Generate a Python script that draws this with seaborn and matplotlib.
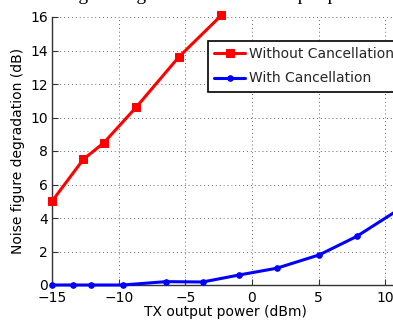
import numpy as np
import pandas as pd
import matplotlib
matplotlib.use("Agg")
import matplotlib.pyplot as plt
import seaborn as sns

# Data
tx_without = [-15.0, -12.65, -11.1, -8.7, -5.5, -2.3]
nf_without = [5.0, 7.5, 8.5, 10.6, 13.6, 16.1]
tx_with = [-15.0, -13.4, -12.1, -9.7, -6.45, -3.7, -0.95, 1.85, 5.05, 7.85, 10.9]
nf_with = [0.0, 0.0, 0.0, 0.0, 0.2, 0.18, 0.6, 1.0, 1.8, 2.9, 4.45]
series_names = ["Without Cancellation", "With Cancellation"]
x_ticks = [-15, -10, -5, 0, 5, 10]
y_ticks = [0, 2, 4, 6, 8, 10, 12, 14, 16]
title_text = "Noise figure degradation vs. TX output power"
xlabel_text = "TX output power (dBm)"
ylabel_text = "Noise figure degradation (dB)"

sns.set_theme(style="white")
plt.rcParams['font.family'] = ['DejaVu Sans']

fig = plt.figure(figsize=(3.93, 3.23), dpi=100)
W, H = 393, 323
left_px, right_px, top_px, bottom_px = 52, 52 + 26 * 13.333, 17, 285
ax = fig.add_axes([left_px / W, 1 - bottom_px / H, (right_px - left_px) / W, (bottom_px - top_px) / H])

df1 = pd.DataFrame({"x": tx_without, "y": nf_without})
df2 = pd.DataFrame({"x": tx_with, "y": nf_with})

sns.lineplot(data=df1, x="x", y="y", ax=ax, color="#ff0000", lw=2.2, marker="s",
             markersize=5.5, markeredgecolor="#ff0000", label=series_names[0],
             clip_on=False, zorder=5)
sns.lineplot(data=df2, x="x", y="y", ax=ax, color="#0000ff", lw=2.2, marker="o",
             markersize=4, markeredgecolor="#0000ff", label=series_names[1],
             clip_on=False, zorder=5)

ax.set_xlim(-15, 11)
ax.set_ylim(0, 16)
ax.set_xticks(x_ticks)
ax.set_yticks(y_ticks)
ax.set_xticklabels([("\u2212%d" % -t) if t < 0 else str(t) for t in x_ticks])
ax.set_yticklabels([str(t) for t in y_ticks])
ax.tick_params(axis="both", direction="in", length=4, width=0.8, color="#333333",
               labelsize=10, labelcolor="black", left=True, bottom=True)
ax.tick_params(axis="x", pad=4)
ax.tick_params(axis="y", pad=3)
ax.grid(True, linestyle=(0, (1, 3)), color="#666666", linewidth=0.7)
for s in ["top", "right"]:
    ax.spines[s].set_visible(False)
for s in ["left", "bottom"]:
    ax.spines[s].set_color("#333333")
    ax.spines[s].set_linewidth(1.0)

ax.set_xlabel(xlabel_text, fontsize=10, color="black", labelpad=0)
ax.set_ylabel(ylabel_text, fontsize=10, color="black", labelpad=4)

leg = ax.legend(loc="upper left", bbox_to_anchor=(208 / W, 1 - 40.7 / H),
                bbox_transform=fig.transFigure, fontsize=10, frameon=True,
                fancybox=False, shadow=False, framealpha=1, borderaxespad=0,
                handlelength=2.2, handletextpad=0.3, labelspacing=0.75,
                borderpad=0.45)
leg.get_frame().set_edgecolor("black")
leg.get_frame().set_linewidth(1.2)
leg.set_zorder(10)

fig.text(0.5, 1.0 + 0.5 / H, title_text, ha="center", va="baseline",
         fontsize=14, family="Liberation Serif", color="black")

fig.savefig("out.png", dpi=100)
